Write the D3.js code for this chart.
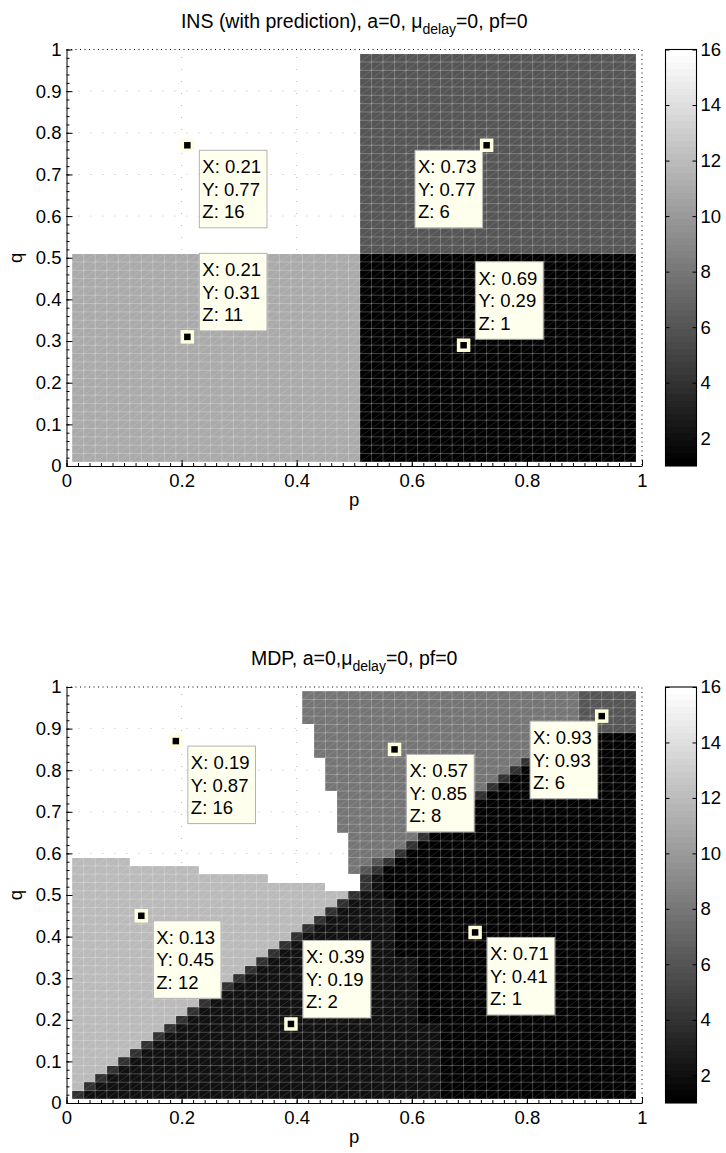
<!DOCTYPE html>
<html>
<head>
<meta charset="utf-8">
<script src="https://cdnjs.cloudflare.com/ajax/libs/d3/7.8.5/d3.min.js"></script>
<style>
  body { margin: 0; background: #fff; }
  svg { display: block; }
  text { font-family: "Liberation Sans", Arial, Helvetica, sans-serif; fill: #000; }
</style>
</head>
<body>
<svg id="chart" width="726" height="1153"></svg>
<script>
// sample points of the surface (same for p and q)
const gridValues = [0.01, 0.03, 0.05, 0.07, 0.09, 0.11, 0.13, 0.15, 0.17, 0.19,
                    0.21, 0.23, 0.25, 0.27, 0.29, 0.31, 0.33, 0.35, 0.37, 0.39,
                    0.41, 0.43, 0.45, 0.47, 0.49, 0.51, 0.53, 0.55, 0.57, 0.59,
                    0.61, 0.63, 0.65, 0.67, 0.69, 0.71, 0.73, 0.75, 0.77, 0.79,
                    0.81, 0.83, 0.85, 0.87, 0.89, 0.91, 0.93, 0.95, 0.97, 0.99];

const xTicks = [0, 0.2, 0.4, 0.6, 0.8, 1];
const yTicks = [0, 0.1, 0.2, 0.3, 0.4, 0.5, 0.6, 0.7, 0.8, 0.9, 1];
const colorbarTicks = [2, 4, 6, 8, 10, 12, 14, 16];

// cell rows, top row (q 0.97-0.99) first, written as "value*count" runs
const insRows = [
  "16*25 6*24", "16*25 6*24", "16*25 6*24", "16*25 6*24", "16*25 6*24", "16*25 6*24",
  "16*25 6*24", "16*25 6*24", "16*25 6*24", "16*25 6*24", "16*25 6*24", "16*25 6*24",
  "16*25 6*24", "16*25 6*24", "16*25 6*24", "16*25 6*24", "16*25 6*24", "16*25 6*24",
  "16*25 6*24", "16*25 6*24", "16*25 6*24", "16*25 6*24", "16*25 6*24", "16*25 6*24",
  "11*25 1*24", "11*25 1*24", "11*25 1*24", "11*25 1*24", "11*25 1*24", "11*25 1*24",
  "11*25 1*24", "11*25 1*24", "11*25 1*24", "11*25 1*24", "11*25 1*24", "11*25 1*24",
  "11*25 1*24", "11*25 1*24", "11*25 1*24", "11*25 1*24", "11*25 1*24", "11*25 1*24",
  "11*25 1*24", "11*25 1*24", "11*25 1*24", "11*25 1*24", "11*25 1*24", "11*25 1*24",
  "11*25 1*24"
];

const mdpRows = [
  "16*20 8*24 6*5",
  "16*20 8*24 6*5",
  "16*20 8*24 6*5",
  "16*20 8*24 6*5",
  "16*21 8*23 6*5",
  "16*21 8*21 4*1 1*6",
  "16*21 8*20 4*1 1*7",
  "16*21 8*19 4*1 1*8",
  "16*22 8*17 4*1 1*9",
  "16*22 8*16 4*1 1*10",
  "16*22 8*15 4*1 1*11",
  "16*22 8*14 4*1 1*12",
  "16*23 8*12 4*1 1*13",
  "16*23 8*11 4*1 1*14",
  "16*23 8*10 4*1 1*15",
  "16*23 8*9 4*1 1*16",
  "16*23 8*8 4*1 1*17",
  "16*24 8*6 4*1 1*18",
  "16*24 8*5 4*1 1*19",
  "16*24 8*4 4*1 1*20",
  "12*5 16*19 8*2 6*1 4*1 1*21",
  "12*11 16*13 8*1 6*1 4*1 1*22",
  "12*17 16*8 4*1 2*1 1*22",
  "12*22 16*3 4*1 2*1 1*22",
  "12*24 4*1 2*2 1*22",
  "12*23 4*1 2*4 1*21",
  "12*22 4*1 2*5 1*21",
  "12*21 4*1 2*6 1*21",
  "12*20 4*1 2*7 1*21",
  "12*19 4*1 2*8 1*21",
  "12*18 4*1 2*9 1*21",
  "12*17 4*1 2*10 1*21",
  "12*16 4*1 2*13 1*19",
  "12*15 4*1 2*14 1*19",
  "12*14 4*1 2*15 1*19",
  "12*13 4*1 2*16 1*19",
  "12*12 4*1 2*17 1*19",
  "12*11 4*1 2*18 1*19",
  "12*10 4*1 2*19 1*19",
  "12*9 4*1 2*20 1*19",
  "12*8 4*1 2*23 1*17",
  "12*7 4*1 2*24 1*17",
  "12*6 4*1 2*25 1*17",
  "12*5 4*1 2*26 1*17",
  "12*4 4*1 2*27 1*17",
  "12*3 4*1 2*28 1*17",
  "12*2 4*1 2*29 1*17",
  "12*1 4*1 2*30 1*17",
  "4*1 2*31 1*17"
];

// data tips
const insTips = [
  { x: 0.21, y: 0.77, z: 16 },
  { x: 0.73, y: 0.77, z: 6 },
  { x: 0.21, y: 0.31, z: 11 },
  { x: 0.69, y: 0.29, z: 1 }
];
const insTipSides = ["se", "sw", "ne", "ne"];

const mdpTips = [
  { x: 0.19, y: 0.87, z: 16 },
  { x: 0.57, y: 0.85, z: 8 },
  { x: 0.93, y: 0.93, z: 6 },
  { x: 0.13, y: 0.45, z: 12 },
  { x: 0.39, y: 0.19, z: 2 },
  { x: 0.71, y: 0.41, z: 1 }
];
const mdpTipSides = ["se", "se", "sw", "se", "ne", "se"];

const cMin = 1, cMax = 16, nColours = 64;

const svg = d3.select("#chart");
const xLeft = 66.5, xRight = 642;
const cbLeft = 665.5, cbRight = 696.5;
const tickFont = 18.5;

const panels = [
  { title: ["INS (with prediction), a=0, \u03bc", "delay", "=0, pf=0"], rows: insRows,
    tips: insTips, sides: insTipSides, top: 49.5, bottom: 466 },
  { title: ["MDP, a=0,\u03bc", "delay", "=0, pf=0"], rows: mdpRows,
    tips: mdpTips, sides: mdpTipSides, top: 687, bottom: 1103 }
];

const greyScale = d3.scaleLinear().domain([0, nColours - 1]).range(["#000000", "#ffffff"]);
function colourIndex(v) {
  return Math.min(nColours - 1, Math.floor((v - cMin) / (cMax - cMin) * nColours));
}
function colour(v) { return greyScale(colourIndex(v)); }

function decodeRow(row) {
  const out = [];
  row.trim().split(/\s+/).forEach(seg => {
    const [v, n] = seg.split("*").map(Number);
    for (let i = 0; i < n; i++) out.push(v);
  });
  return out;
}

function drawPanel(panel) {
  const x = d3.scaleLinear().domain([0, 1]).range([xLeft, xRight]);
  const y = d3.scaleLinear().domain([0, 1]).range([panel.bottom, panel.top]);
  const g = svg.append("g");
  const nRows = gridValues.length - 1;

  const cells = [];
  panel.rows.forEach((row, k) => {
    const r = nRows - 1 - k;
    decodeRow(row).forEach((v, c) => cells.push({ c, r, v }));
  });

  const cellRect = sel => sel
    .attr("x", d => x(gridValues[d.c]))
    .attr("y", d => y(gridValues[d.r + 1]))
    .attr("width", d => x(gridValues[d.c + 1]) - x(gridValues[d.c]))
    .attr("height", d => y(gridValues[d.r]) - y(gridValues[d.r + 1]))
    .attr("fill", d => colour(d.v));

  // white cells first, the dotted grid shows on them
  g.append("g").attr("shape-rendering", "crispEdges")
    .selectAll("rect").data(cells.filter(d => d.v === cMax)).join("rect").call(cellRect);

  const grid = g.append("g").attr("stroke", "#b8b8b8").attr("stroke-width", 1)
    .attr("stroke-dasharray", "1,11").attr("fill", "none");
  yTicks.slice(1, -1).forEach(t => grid.append("line")
    .attr("x1", x(0)).attr("x2", x(1)).attr("y1", y(t)).attr("y2", y(t)));
  xTicks.slice(1, -1).forEach(t => grid.append("line")
    .attr("x1", x(t)).attr("x2", x(t)).attr("y1", y(0)).attr("y2", y(1)));

  g.append("g").attr("shape-rendering", "crispEdges")
    .selectAll("rect").data(cells.filter(d => d.v !== cMax)).join("rect").call(cellRect);

  // mesh lines and the triangle diagonals of each face
  const mesh = d3.path();
  gridValues.forEach(v => {
    mesh.moveTo(x(v), y(gridValues[0])); mesh.lineTo(x(v), y(gridValues[nRows]));
    mesh.moveTo(x(gridValues[0]), y(v)); mesh.lineTo(x(gridValues[nRows]), y(v));
  });
  g.append("path").attr("d", mesh.toString()).attr("fill", "none")
    .attr("stroke", "#fff").attr("stroke-opacity", 0.25).attr("stroke-width", 1);

  const diag = d3.path();
  cells.forEach(d => {
    diag.moveTo(x(gridValues[d.c]), y(gridValues[d.r]));
    diag.lineTo(x(gridValues[d.c + 1]), y(gridValues[d.r + 1]));
  });
  g.append("path").attr("d", diag.toString()).attr("fill", "none")
    .attr("stroke", "#fff").attr("stroke-opacity", 0.16).attr("stroke-width", 0.8);

  // dotted top and right edges
  g.append("path")
    .attr("d", `M${x(0)},${y(1)}H${x(1)}V${y(0)}`)
    .attr("fill", "none").attr("stroke", "#000").attr("stroke-width", 1)
    .attr("stroke-dasharray", "1,3.5");

  // axes, minor ticks first
  g.append("g").attr("transform", `translate(${x(0)},0)`)
    .call(d3.axisLeft(y).ticks(50).tickFormat("").tickSizeInner(-3).tickSizeOuter(0))
    .call(a => a.select(".domain").remove());
  g.append("g").attr("transform", `translate(0,${y(0)})`)
    .call(d3.axisBottom(x).ticks(50).tickFormat("").tickSizeInner(-3).tickSizeOuter(0))
    .call(a => a.select(".domain").remove());

  const fmt = d3.format("~g");
  const yAxis = g.append("g").attr("transform", `translate(${x(0)},0)`)
    .call(d3.axisLeft(y).tickValues(yTicks).tickFormat(fmt).tickSizeInner(-6).tickSizeOuter(0).tickPadding(5));
  const xAxis = g.append("g").attr("transform", `translate(0,${y(0)})`)
    .call(d3.axisBottom(x).tickValues(xTicks).tickFormat(fmt).tickSizeInner(-6).tickSizeOuter(0).tickPadding(8));
  [yAxis, xAxis].forEach(a => {
    a.attr("font-family", null);
    a.selectAll("text").attr("font-size", tickFont);
    a.select(".domain").attr("stroke", "#000");
  });

  g.append("text").attr("x", (x(0) + x(1)) / 2).attr("y", y(0) + 40)
    .attr("text-anchor", "middle").attr("font-size", tickFont).text("p");
  g.append("text").attr("transform", `translate(22,${(y(0) + y(1)) / 2}) rotate(-90)`)
    .attr("text-anchor", "middle").attr("font-size", tickFont).text("q");

  // title with subscript
  const title = g.append("text").attr("x", (x(0) + x(1)) / 2).attr("y", y(1) - 22)
    .attr("text-anchor", "middle").attr("font-size", 19.5);
  title.append("tspan").text(panel.title[0]);
  title.append("tspan").attr("font-size", 14).attr("dy", 6).text(panel.title[1]);
  title.append("tspan").attr("dy", -6).text(panel.title[2]);

  // colorbar
  const cb = d3.scaleLinear().domain([cMin, cMax]).range([panel.bottom, panel.top]);
  const bands = d3.range(nColours).map(i => ({
    i, lo: cMin + i * (cMax - cMin) / nColours, hi: cMin + (i + 1) * (cMax - cMin) / nColours
  }));
  g.append("g").attr("shape-rendering", "crispEdges").selectAll("rect").data(bands).join("rect")
    .attr("x", cbLeft).attr("width", cbRight - cbLeft)
    .attr("y", d => cb(d.hi)).attr("height", d => cb(d.lo) - cb(d.hi))
    .attr("fill", d => greyScale(d.i));
  g.append("rect").attr("x", cbLeft).attr("y", cb(cMax)).attr("width", cbRight - cbLeft)
    .attr("height", cb(cMin) - cb(cMax)).attr("fill", "none").attr("stroke", "#000").attr("stroke-width", 1.1);
  const cbAxis = g.append("g").attr("transform", `translate(${cbRight},0)`)
    .call(d3.axisRight(cb).tickValues(colorbarTicks).tickFormat(fmt).tickSizeInner(-4).tickSizeOuter(0).tickPadding(4));
  cbAxis.attr("font-family", null).selectAll("text").attr("font-size", tickFont);
  cbAxis.select(".domain").remove();
  g.append("g").attr("transform", `translate(${cbLeft},0)`)
    .call(d3.axisLeft(cb).tickValues(colorbarTicks).tickFormat("").tickSizeInner(-4).tickSizeOuter(0))
    .call(a => a.select(".domain").remove());

  // data tips
  panel.tips.forEach((t, i) => {
    const mx = x(t.x), my = y(t.y);
    const tg = g.append("g");
    const box = tg.append("rect").attr("fill", "#ffffee").attr("stroke", "#b4b4b4").attr("stroke-width", 1);
    const lines = [`X: ${t.x.toFixed(2)}`, `Y: ${t.y.toFixed(2)}`, `Z: ${t.z}`];
    const txt = tg.selectAll("text.tip").data(lines).join("text").attr("class", "tip")
      .attr("font-size", 18.5).text(d => d);
    const bw = d3.max(txt.nodes(), n => n.getComputedTextLength()) + 9;
    const bh = 77.5;
    const side = panel.sides[i];
    const bx = side === "sw" ? mx - 4 - bw : mx + 12;
    const by = side === "ne" ? my - 6 - bh : my + 5;
    box.attr("x", bx).attr("y", by).attr("width", bw).attr("height", bh);
    txt.attr("x", bx + 3).attr("y", (d, j) => by + 23 + j * 22.5);
    tg.append("rect").attr("x", mx - 5).attr("y", my - 5).attr("width", 10).attr("height", 10)
      .attr("fill", "#000").attr("stroke", "#ffffdd").attr("stroke-width", 3.5);
  });
}

panels.forEach(drawPanel);
</script>
</body>
</html>
